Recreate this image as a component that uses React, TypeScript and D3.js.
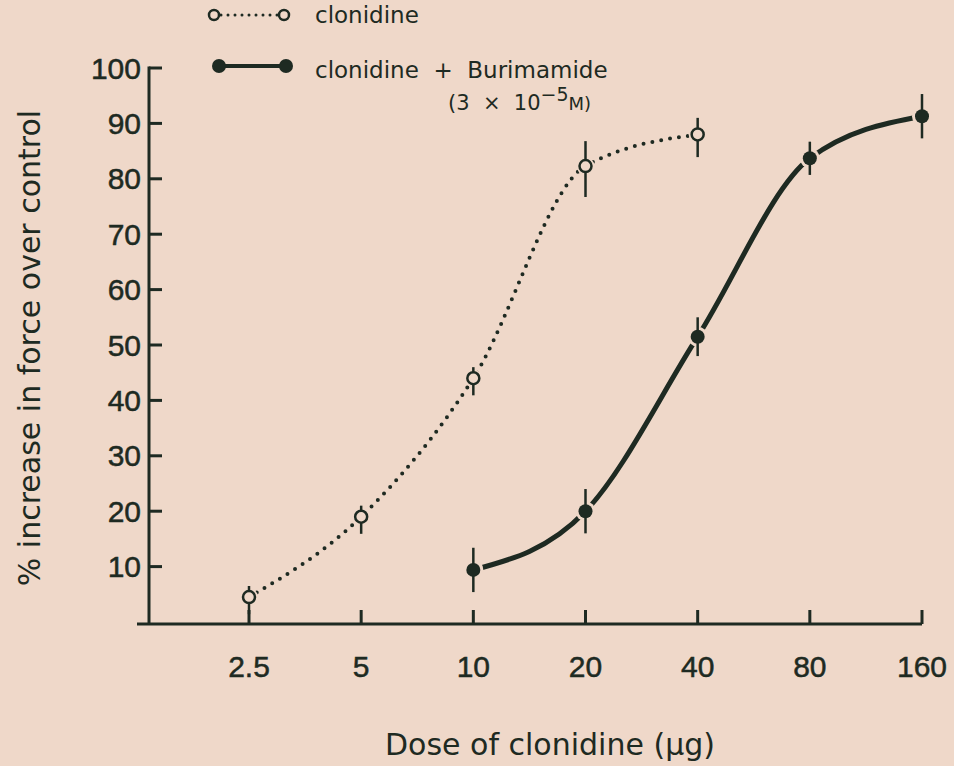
import * as d3 from "d3";
import { useEffect } from "react";

// dose of clonidine (µg), log2 axis
const doses = [2.5, 5, 10, 20, 40, 80, 160];
const yTicks = [10, 20, 30, 40, 50, 60, 70, 80, 90, 100];

// clonidine alone
const clonDose = [2.5, 5, 10, 20, 40];
const clonMean = [4.5, 19, 44, 82.3, 88];
const clonErr = [2, 2, 2, 4.5, 3];

// clonidine + burimamide (3 x 10^-5 M)
const burDose = [10, 20, 40, 80, 160];
const burMean = [9.4, 20, 51.5, 83.7, 91.3];
const burErr = [4, 4, 3.5, 3, 4];

const W = 954;
const H = 766;
const INK = "#1e2a22";
const PAPER = "#efd8c9";
const TEXT_FONT = "'DejaVu Sans', 'Noto Sans', sans-serif";
const NUM_FONT = "'Liberation Sans', 'Noto Sans', sans-serif";

export default function App() {
  useEffect(() => {
    document.body.style.margin = "0";
  }, []);

  const x = d3.scaleLog().base(2).domain([2.5, 160]).range([249, 922]);
  const y = d3.scaleLinear().domain([0, 100]).range([622, 68]);
  const axisX = 149;
  const axisY = 624;

  const line = d3
    .line<[number, number]>()
    .x((d) => x(d[0]))
    .y((d) => y(d[1]))
    .curve(d3.curveMonotoneX);

  const clonPts = clonDose.map((d, i) => [d, clonMean[i]] as [number, number]);
  const burPts = burDose.map((d, i) => [d, burMean[i]] as [number, number]);

  return (
    <svg width={W} height={H} style={{ display: "block", background: PAPER }} fontFamily={TEXT_FONT}>
      <rect width={W} height={H} fill={PAPER} />

      {/* legend */}
      <g fill={INK}>
        <line x1={214} y1={15} x2={282} y2={15} stroke={INK} strokeWidth={3} strokeDasharray="0 7" strokeLinecap="round" />
        <circle cx={214} cy={15} r={5} fill={PAPER} stroke={INK} strokeWidth={2.5} />
        <circle cx={284} cy={15} r={5} fill={PAPER} stroke={INK} strokeWidth={2.5} />
        <text x={315} y={23} fontSize={23}>clonidine</text>
        <line x1={219} y1={66} x2={285} y2={66} stroke={INK} strokeWidth={4} />
        <circle cx={219} cy={66} r={7} />
        <circle cx={286} cy={66} r={7} />
        <text x={315} y={78} fontSize={23} xmlSpace="preserve">clonidine  +  Burimamide</text>
        <text x={448} y={110} fontSize={21} xmlSpace="preserve">
          (3  ×  10<tspan dy={-9} fontSize={19}>−5</tspan><tspan dy={9} fontSize={18}>M)</tspan>
        </text>
      </g>

      {/* axes */}
      <g stroke={INK} strokeWidth={3}>
        <line x1={axisX} y1={y(100) - 1.5} x2={axisX} y2={axisY} />
        <line x1={137} y1={axisY} x2={x(160)} y2={axisY} />
        {yTicks.map((t) => (
          <line key={t} x1={axisX} x2={axisX + 13} y1={y(t)} y2={y(t)} />
        ))}
        {doses.map((d) => (
          <line key={d} x1={x(d)} x2={x(d)} y1={axisY} y2={axisY - 14} />
        ))}
      </g>
      <g fill={INK} stroke={INK} strokeWidth={0.5} fontFamily={NUM_FONT} fontSize={30} textAnchor="end" dominantBaseline="central">
        {yTicks.map((t) => (
          <text key={t} x={141} y={y(t)}>{t}</text>
        ))}
      </g>
      <g fill={INK} stroke={INK} strokeWidth={0.5} fontFamily={NUM_FONT} fontSize={30} textAnchor="middle">
        {doses.map((d) => (
          <text key={d} x={x(d)} y={677}>{d}</text>
        ))}
      </g>
      <text
        transform={`translate(40,${(y(100) + axisY) / 2 + 2}) rotate(-90)`}
        textAnchor="middle"
        fontSize={30}
        fill={INK}
      >
        % increase in force over control
      </text>
      <text x={550} y={755} textAnchor="middle" fontSize={30} fill={INK}>
        Dose of clonidine (µg)
      </text>

      {/* curves */}
      <path d={line(clonPts) ?? ""} fill="none" stroke={INK} strokeWidth={4} strokeDasharray="0 9" strokeLinecap="round" />
      <path d={line(burPts) ?? ""} fill="none" stroke={INK} strokeWidth={5} />

      {/* gaps around markers */}
      {clonPts.map((p, i) => (
        <circle key={"hc" + i} cx={x(p[0])} cy={y(p[1])} r={9} fill={PAPER} />
      ))}
      {burPts.map((p, i) => (
        <circle key={"hb" + i} cx={x(p[0])} cy={y(p[1])} r={10} fill={PAPER} />
      ))}

      {/* error bars */}
      <g stroke={INK} strokeWidth={2.5}>
        {clonPts.map((p, i) => (
          <line key={"ec" + i} x1={x(p[0])} x2={x(p[0])} y1={y(p[1] + clonErr[i])} y2={y(p[1] - clonErr[i]) + 6} />
        ))}
        {burPts.map((p, i) => (
          <line key={"eb" + i} x1={x(p[0])} x2={x(p[0])} y1={y(p[1] + burErr[i])} y2={y(p[1] - burErr[i])} />
        ))}
      </g>

      {/* markers */}
      {clonPts.map((p, i) => (
        <circle key={"mc" + i} cx={x(p[0])} cy={y(p[1])} r={6} fill={PAPER} stroke={INK} strokeWidth={2.5} />
      ))}
      {burPts.map((p, i) => (
        <circle key={"mb" + i} cx={x(p[0])} cy={y(p[1])} r={7} fill={INK} />
      ))}
    </svg>
  );
}
